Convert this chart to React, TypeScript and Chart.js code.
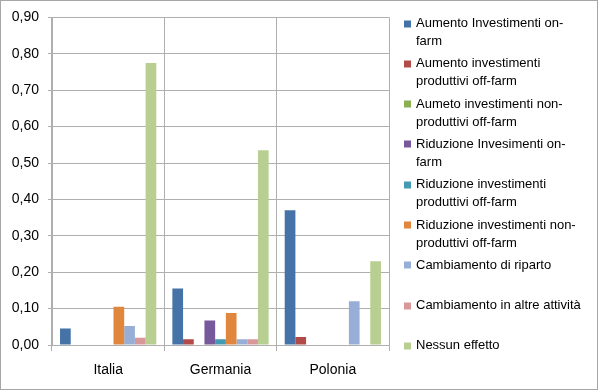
import React, { useEffect, useRef } from "react";
import { Chart, registerables } from "chart.js";

Chart.register(...registerables);

const categories = ["Italia", "Germania", "Polonia"];

const seriesNames: string[][] = [
  ["Aumento Investimenti on-", "farm"],
  ["Aumento investimenti", "produttivi off-farm"],
  ["Aumeto investimenti non-", "produttivi off-farm"],
  ["Riduzione Invesimenti on-", "farm"],
  ["Riduzione investimenti", "produttivi off-farm"],
  ["Riduzione investimenti non-", "produttivi off-farm"],
  ["Cambiamento di riparto"],
  ["Cambiamento in altre attività"],
  ["Nessun effetto"],
];

const aumentoOnFarm = [0.045, 0.155, 0.37];
const aumentoProdOffFarm = [0, 0.016, 0.022];
const aumentoNonProdOffFarm = [0, 0, 0];
const riduzioneOnFarm = [0, 0.067, 0];
const riduzioneProdOffFarm = [0, 0.016, 0];
const riduzioneNonProdOffFarm = [0.105, 0.088, 0];
const cambiamentoRiparto = [0.052, 0.016, 0.12];
const cambiamentoAltre = [0.02, 0.016, 0];
const nessunEffetto = [0.775, 0.535, 0.23];

const seriesValues = [
  aumentoOnFarm,
  aumentoProdOffFarm,
  aumentoNonProdOffFarm,
  riduzioneOnFarm,
  riduzioneProdOffFarm,
  riduzioneNonProdOffFarm,
  cambiamentoRiparto,
  cambiamentoAltre,
  nessunEffetto,
];

const seriesColors = [
  "#4572A7",
  "#B24A47",
  "#8EAE52",
  "#75599A",
  "#4499B3",
  "#E0873D",
  "#97AFD6",
  "#D89899",
  "#B8CF91",
];

const yTicks = { min: 0, max: 0.9, step: 0.1 };

const FONT = "'Liberation Sans', Arial, sans-serif";

export default function App() {
  const ref = useRef<HTMLCanvasElement | null>(null);

  useEffect(() => {
    if (!ref.current) return;

    const framePlugin = {
      id: "frame",
      beforeDraw(chart: any) {
        const ctx = chart.ctx;
        ctx.save();
        ctx.fillStyle = "#ffffff";
        ctx.fillRect(0, 0, chart.width, chart.height);
        ctx.restore();
      },
      afterDraw(chart: any) {
        const ctx = chart.ctx;
        ctx.save();
        ctx.strokeStyle = "#A6A6A6";
        ctx.lineWidth = 1;
        ctx.strokeRect(0.5, 0.5, 597, 389);
        // legend
        ctx.font = `13px ${FONT}`;
        ctx.textBaseline = "middle";
        ctx.fillStyle = "#000";
        chart.data.datasets.forEach((ds: any, i: number) => {
          const y = 23.5 + 40.3 * i;
          ctx.fillStyle = ds.backgroundColor;
          ctx.fillRect(404, Math.round(y) - 3.5, 7, 7);
          ctx.fillStyle = "#000";
          const lines: string[] = seriesNames[i];
          lines.forEach((ln, k) => {
            ctx.fillText(ln, 416, y + k * 18);
          });
        });
        ctx.restore();
      },
    };

    const chart = new Chart(ref.current, {
      type: "bar",
      data: {
        labels: categories,
        datasets: seriesValues.map((vals, i) => ({
          label: seriesNames[i].join(" "),
          data: vals,
          backgroundColor: seriesColors[i],
          borderWidth: 0,
          categoryPercentage: 0.857,
          barPercentage: 1,
        })),
      },
      options: {
        animation: false,
        responsive: false,
        layout: { padding: { left: 0, right: 211, top: 13, bottom: 0 } },
        plugins: {
          legend: { display: false },
          tooltip: { enabled: false },
        },
        scales: {
          x: {
            afterFit: (s: any) => {
              s.height = 47;
            },
            grid: {
              offset: true,
              color: "#AFAFAF",
              lineWidth: 1,
              tickLength: 6,
              drawTicks: true,
            },
            border: { display: true, color: "#AFAFAF" },
            ticks: {
              color: "#000",
              font: { family: FONT, size: 14 },
              padding: 11,
            },
          },
          y: {
            min: yTicks.min,
            max: yTicks.max,
            afterFit: (s: any) => {
              s.width = 52;
            },
            grid: {
              color: "#AFAFAF",
              lineWidth: 1,
              tickLength: 4,
            },
            border: { display: true, color: "#AFAFAF" },
            ticks: {
              stepSize: yTicks.step,
              color: "#000",
              font: { family: FONT, size: 14 },
              padding: 9,
              callback: (v: any) => Number(v).toFixed(2).replace(".", ","),
            },
          },
        },
      },
      plugins: [framePlugin],
    });

    return () => chart.destroy();
  }, []);

  return (
    <div style={{ position: "fixed", left: 0, top: 0, width: 600, height: 392, background: "#fff" }}>
      <canvas ref={ref} width={600} height={392} />
    </div>
  );
}
